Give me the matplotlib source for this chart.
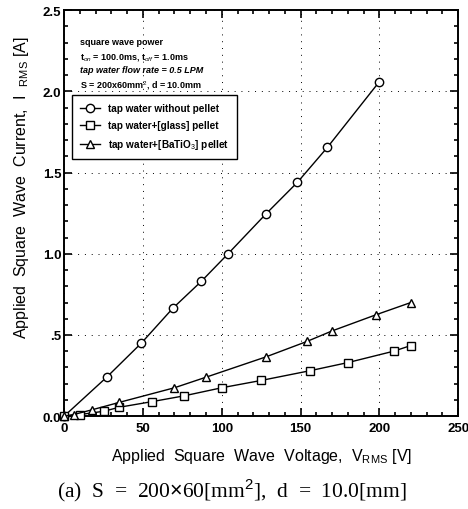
import matplotlib
matplotlib.use('Agg')
import matplotlib.pyplot as plt
from matplotlib.ticker import MultipleLocator, FixedLocator, FixedFormatter

plt.rcParams['font.family'] = ['Liberation Sans', 'DejaVu Sans']
plt.rcParams['mathtext.fontset'] = 'custom'
plt.rcParams['mathtext.rm'] = 'Liberation Sans'
plt.rcParams['mathtext.it'] = 'Liberation Sans:italic'

# Measured RMS current vs applied RMS voltage
v_plain = [0, 27, 49, 69, 87, 104, 128, 148, 167, 200]
i_plain = [0.0, 0.24, 0.45, 0.665, 0.83, 1.0, 1.245, 1.44, 1.655, 2.06]

v_glass = [0, 10, 25, 35, 56, 76, 100, 125, 156, 180, 209, 220]
i_glass = [0.0, 0.01, 0.03, 0.055, 0.09, 0.125, 0.175, 0.22, 0.28, 0.33, 0.40, 0.435]

v_batio3 = [0, 6, 18, 35, 70, 90, 128, 154, 170, 198, 220]
i_batio3 = [0.0, 0.01, 0.04, 0.085, 0.175, 0.24, 0.365, 0.46, 0.525, 0.625, 0.70]

y_ticks = [0.0, 0.5, 1.0, 1.5, 2.0, 2.5]
y_tick_labels = ['0.0', '.5', '1.0', '1.5', '2.0', '2.5']

fig = plt.figure(figsize=(4.68, 5.10), dpi=100)
ax = fig.add_axes([0.137, 0.182, 0.842, 0.796])

mk = dict(color='black', linewidth=1.0, markerfacecolor='white',
          markeredgecolor='black', markeredgewidth=1.0, clip_on=False, zorder=3)
ax.plot(v_plain, i_plain, marker='o', markersize=6, label='tap water without pellet', **mk)
ax.plot(v_glass, i_glass, marker='s', markersize=5.4, label='tap water+[glass] pellet', **mk)
ax.plot(v_batio3, i_batio3, marker='^', markersize=6,
        label='tap water+[BaTiO$_3$] pellet', **mk)

ax.set_xlim(0, 250)
ax.set_ylim(0, 2.5)
ax.xaxis.set_major_locator(MultipleLocator(50))
ax.xaxis.set_minor_locator(MultipleLocator(10))
ax.yaxis.set_major_locator(FixedLocator(y_ticks))
ax.yaxis.set_major_formatter(FixedFormatter(y_tick_labels))
ax.yaxis.set_minor_locator(MultipleLocator(0.1))

ax.tick_params(which='both', direction='in', top=True, right=True, width=1.2)
ax.tick_params(which='major', length=5.5, labelsize=9.5, pad=4)
ax.tick_params(which='minor', length=3)
ax.tick_params(axis='y', pad=2)
for lab in ax.get_xticklabels() + ax.get_yticklabels():
    lab.set_fontweight('bold')
for s in ax.spines.values():
    s.set_linewidth(1.4)

# sparse dotted grid at the major ticks
ax.grid(True, which='major', color='black', linestyle=(0, (1, 6)), linewidth=0.7)

ax.set_xlabel('Applied  Square  Wave  Voltage,  V$_{\\rm RMS}$ [V]', fontsize=11.5, labelpad=9)
ax.set_ylabel('Applied  Square  Wave  Current,  I  $_{\\rm RMS}$ [A]', fontsize=11.5)
ax.yaxis.set_label_coords(-0.085, 0.565)

# test conditions
tx = 0.04
ax.text(tx, 0.935, 'square wave power', fontsize=6.5, va='top',
        fontweight='bold', transform=ax.transAxes)
ax.text(tx, 0.900, 't$_{on}$ = 100.0ms, t$_{off}$ = 1.0ms', fontsize=6.5, va='top',
        fontweight='bold', transform=ax.transAxes)
ax.text(tx, 0.866, 'tap water flow rate = 0.5 LPM', fontsize=6.5, va='top',
        style='italic', fontweight='bold', transform=ax.transAxes)
ax.text(tx, 0.832, 'S = 200x60mm$^2$, d = 10.0mm', fontsize=6.5, va='top',
        fontweight='bold', transform=ax.transAxes)

leg = ax.legend(loc='upper left', bbox_to_anchor=(0.02, 0.79),
                prop={'size': 7.2, 'weight': 'bold'},
                fancybox=False, edgecolor='black', framealpha=1, handlelength=2.0,
                handletextpad=0.8, borderpad=0.8, labelspacing=0.7, borderaxespad=0)
leg.get_frame().set_linewidth(1.0)

fig.text(0.495, 0.039, '(a)  S  =  200$\\times$60[mm$^2$],  d  =  10.0[mm]',
         fontsize=15.5, family=['Liberation Serif', 'DejaVu Serif'], ha='center', va='center')

fig.savefig('out.png', dpi=100)
